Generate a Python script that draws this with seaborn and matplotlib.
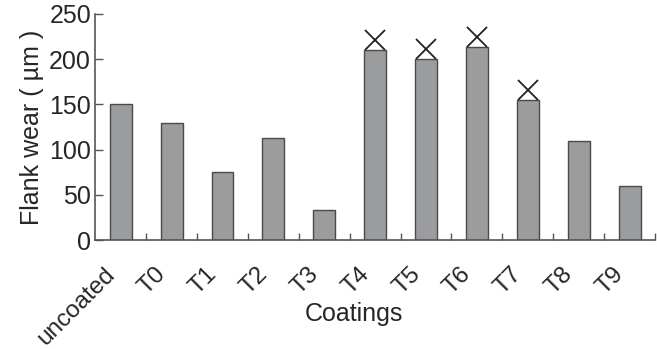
import matplotlib
matplotlib.use("Agg")
import matplotlib.pyplot as plt
import matplotlib.transforms as mtransforms
import seaborn as sns
import pandas as pd
import numpy as np

categories = ["uncoated", "T0", "T1", "T2", "T3", "T4", "T5", "T6", "T7", "T8", "T9"]
flank_wear = [150, 130, 75, 113, 33, 210, 200, 213, 155, 110, 60]
failed = ["T4", "T5", "T6", "T7"]
y_ticks = [0, 50, 100, 150, 200, 250]

sns.set_theme(style="white")
plt.rcParams['font.family'] = ['Liberation Sans', 'DejaVu Sans']

df = pd.DataFrame({"Coatings": categories, "Flank wear": flank_wear})

fig = plt.figure(figsize=(6.57, 3.49), dpi=100)
ax = fig.add_axes([0.145, 0.312, 0.852, 0.648])

sns.barplot(data=df, x="Coatings", y="Flank wear", order=categories,
            color="#9b9c9e", saturation=1, width=0.43,
            edgecolor="#4a4a4a", linewidth=1.0, ax=ax)

# failure markers above bars
fx = [categories.index(c) for c in failed]
fy = [flank_wear[categories.index(c)] for c in failed]
trans = mtransforms.offset_copy(ax.transData, fig=fig, x=0, y=10, units='dots')
ax.plot(fx, fy, linestyle="none", marker="x", markersize=15,
        markeredgewidth=1.3, color="#222222", transform=trans, clip_on=False)

ax.set_xlim(-0.5, 10.5)
ax.set_ylim(0, 250)
ax.set_yticks(y_ticks)
ax.set_yticklabels([str(v) for v in y_ticks], fontsize=18)

ax.set_xticks(range(len(categories)))
ax.set_xticklabels(categories, fontsize=17.5, rotation=45, ha="right",
                   rotation_mode="anchor")
ax.set_xticks(np.arange(0.5, 11, 1.0), minor=True)
ax.tick_params(axis="x", which="major", length=0, pad=8)
ax.tick_params(axis="x", which="minor", direction="in", length=5,
               width=1, color="#555555", bottom=True)
ax.tick_params(axis="y", which="major", direction="in", length=6,
               width=1, color="#555555", left=True, pad=3)

shift = mtransforms.ScaledTranslation(-17 / 100, -12 / 100, fig.dpi_scale_trans)
for lab in ax.get_xticklabels():
    lab.set_transform(lab.get_transform() + shift)

ax.set_xlabel("Coatings", fontsize=18)
ax.xaxis.set_label_coords(0.4625, -0.275)
ax.set_ylabel("Flank wear ( \u00b5m )", fontsize=18, labelpad=4)

for s in ["top", "right"]:
    ax.spines[s].set_visible(False)
for s in ["left", "bottom"]:
    ax.spines[s].set_color("#555555")
    ax.spines[s].set_linewidth(1.2)

fig.savefig("out.png", dpi=100)
